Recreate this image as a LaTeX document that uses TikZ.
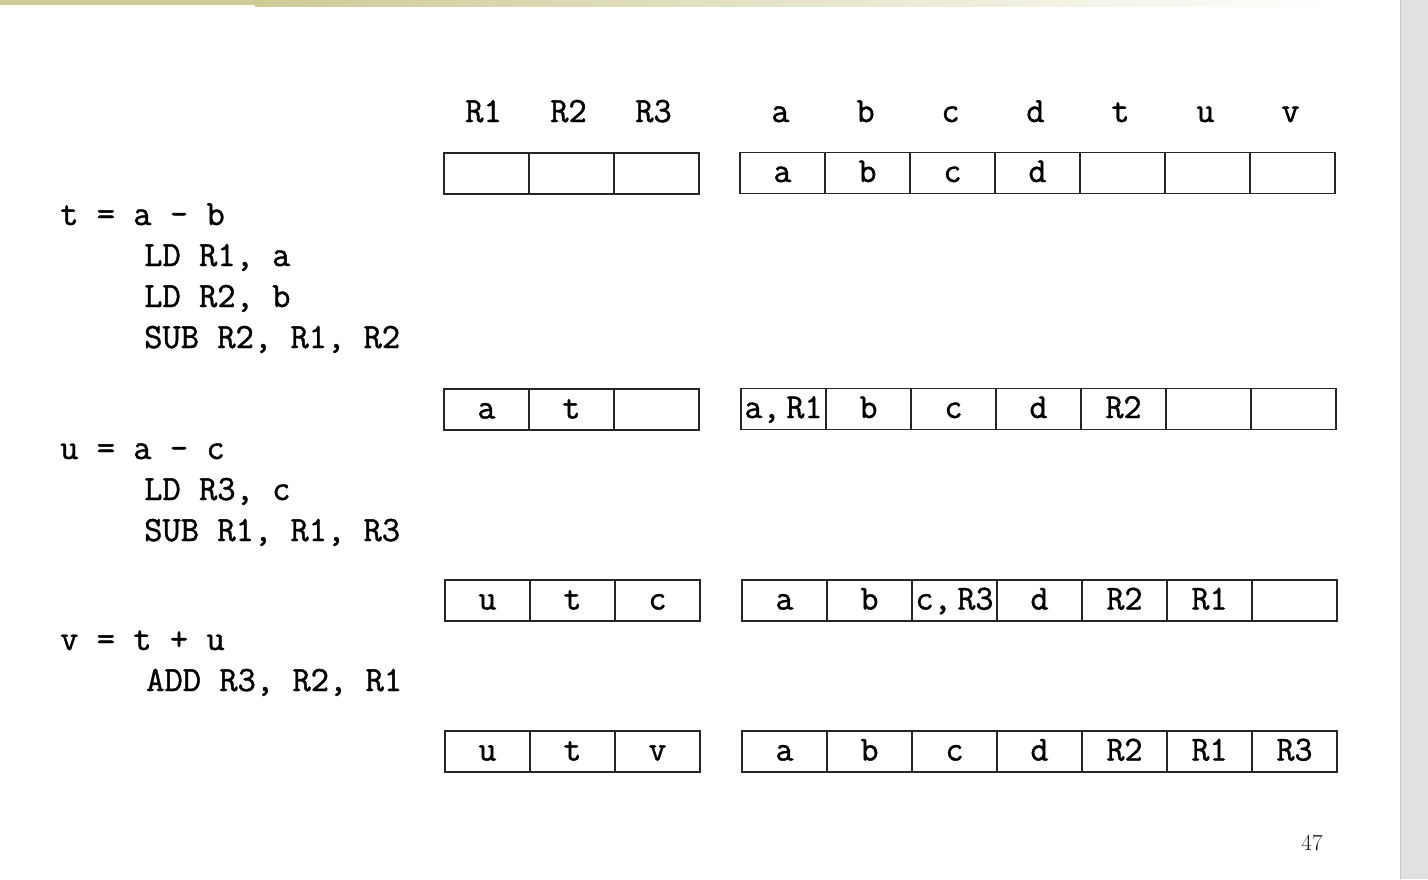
\documentclass[tikz,border=0pt]{standalone}
\usepackage{tikz}
\usepackage{fontspec}
\usetikzlibrary{positioning}
\newfontfamily\codefont[FakeBold=1.2]{Latin Modern Mono}
\definecolor{barolive}{RGB}{205,203,150}
\definecolor{sidegray}{RGB}{225,225,225}
\definecolor{sideline}{RGB}{200,200,200}

\begin{document}
\begin{tikzpicture}[x=1pt, y=-1pt,
    cell/.style={rectangle, draw=black!85, line width=1.3pt, minimum width=85pt,
                 minimum height=41pt, inner sep=0pt, text height=24pt, text depth=6pt,
                 font=\fontsize{35}{41}\codefont},
    code/.style={anchor=base west, inner sep=0pt, font=\fontsize{35.5}{41}\codefont},
    head/.style={anchor=base, inner sep=0pt, font=\fontsize{35.5}{41}\codefont}]
    \useasboundingbox (0,0) rectangle (1428,879);

    % Slide frame
    \fill[barolive] (0,0) rectangle (255,5);
    \shade[left color=barolive, right color=white] (255,0) rectangle (1330,6);
    \fill[white] (1330,0) rectangle (1400,6);
    \fill[sidegray] (1400,0) rectangle (1428,879);
    \draw[sideline, line width=1.5pt] (1400.5,0) -- (1400.5,879);

    % Headers
    \foreach \txt [count=\j] in {R1,R2,R3}
        \node[head] (hr\j) at (441+85*\j-42.5,122) {\txt};
    \foreach \txt [count=\j] in {a,b,c,d,t,u,v}
        \node[head] (hm\j) at (738+85*\j-42.5,122) {\txt};

    % Register and memory rows
    \foreach \txt [count=\j] in {{},{},{}}
        \node[cell] (r1-\j) at (444+85*\j-42.5,173.5) {\txt};
    \foreach \txt [count=\j] in {a,b,c,d,{},{},{}}
        \node[cell] (m1-\j) at (740+85*\j-42.5,173) {\txt};

    \foreach \txt [count=\j] in {a,t,{}}
        \node[cell] (r2-\j) at (444+85*\j-42.5,409.5) {\txt};
    \foreach \txt [count=\j] in {{a,\,R1},b,c,d,R2,{},{}}
        \node[cell] (m2-\j) at (741+85*\j-42.5,409) {\txt};

    \foreach \txt [count=\j] in {u,t,c}
        \node[cell] (r3-\j) at (445+85*\j-42.5,600.5) {\txt};
    \foreach \txt [count=\j] in {a,b,{c,\,R3},d,R2,R1,{}}
        \node[cell] (m3-\j) at (742+85*\j-42.5,600.5) {\txt};

    \foreach \txt [count=\j] in {u,t,v}
        \node[cell] (r4-\j) at (445+85*\j-42.5,751.5) {\txt};
    \foreach \txt [count=\j] in {a,b,c,d,R2,R1,R3}
        \node[cell] (m4-\j) at (742+85*\j-42.5,751.5) {\txt};

    % Code
    \node[code] (s1) at (60,225) {t = a - b};
    \node[code] (s1a) at (144,266) {LD R1, a};
    \node[code] (s1b) at (144,307) {LD R2, b};
    \node[code] (s1c) at (144,348) {SUB R2, R1, R2};

    \node[code] (s2) at (60,459) {u = a - c};
    \node[code] (s2a) at (144,500) {LD R3, c};
    \node[code] (s2b) at (144,541) {SUB R1, R1, R3};

    \node[code] (s3) at (60,650) {v = t + u};
    \node[code] (s3a) at (146,691) {ADD R3, R2, R1};

    % Page number
    \node[font=\fontsize{23}{27}\selectfont, text=black!90] (pagenum) at (1312,843) {47};
\end{tikzpicture}
\end{document}
